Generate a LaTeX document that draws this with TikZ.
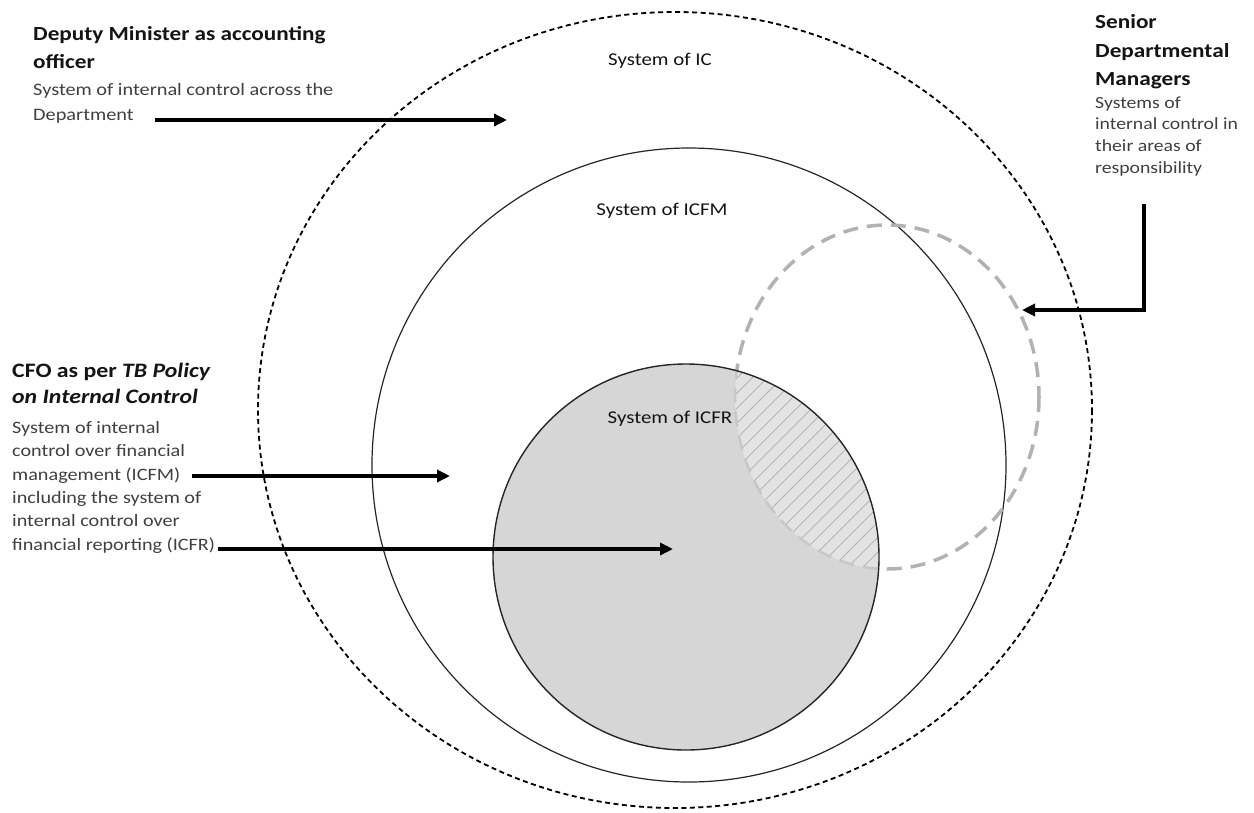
\documentclass[tikz,border=0pt]{standalone}
\usepackage{fontspec}
\setmainfont{Carlito}[FakeStretch=1.16]
\usetikzlibrary{arrows.meta}
\begin{document}
\begin{tikzpicture}[x=1pt,y=-1pt,
  head/.style={font=\fontsize{20}{28}\selectfont\bfseries, anchor=north west, inner sep=0pt, align=left, text=black!92},
  body/.style={font=\fontsize{17.5}{25}\selectfont, anchor=north west, inner sep=0pt, align=left, text=black!75},
  lbl/.style={font=\fontsize{18}{20}\selectfont, anchor=base, inner sep=0pt, text=black!92},
  arr/.style={line width=3.5pt, draw=black, -{Triangle[length=13pt,width=12pt]}},
]
\useasboundingbox (0,0) rectangle (1254,812);
\fill[white] (0,0) rectangle (1254,812);

% outer dashed ellipse: system of IC
\draw[line width=1.8pt, dash pattern=on 5pt off 3.5pt] (675,410) ellipse [x radius=417, y radius=398];
% middle circle: system of ICFM
\draw[line width=1.2pt, black!85] (689,465) circle [radius=317];
% senior managers dashed ellipse
\draw[line width=3.5pt, color=black!30, dash pattern=on 15pt off 9pt] (887,397) ellipse [x radius=152, y radius=172];
% inner gray circle: system of ICFR
\fill[black!16] (686,557) circle [radius=193];
% hatched intersection
\begin{scope}
  \clip (686,557) circle [radius=193];
  \clip (887,397) ellipse [x radius=152, y radius=172];
  \fill[black!11] (700,340) rectangle (900,600);
  \foreach \i in {0,...,26}{
    \draw[black!33, line width=0.7pt] (400+\i*15,700) -- ++(420,-420);
  }
\end{scope}
\begin{scope}
  \clip (686,557) circle [radius=193];
  \draw[line width=2.5pt, color=black!22, dash pattern=on 15pt off 9pt] (887,397) ellipse [x radius=152, y radius=172];
\end{scope}
\draw[line width=1.4pt, black!85] (686,557) circle [radius=193];

% circle labels
\node[lbl] (ic) at (660,65) {System of IC};
\node[lbl] (icfm) at (662,215) {System of ICFM};
\node[lbl] (icfr) at (670,423) {System of ICFR};

% Deputy Minister
\node[head] (dmh) at (33,26.4) {Deputy Minister as accounting\\officer};
\node[body] (dmb) at (33,83) {System of internal control across the\\Department};
\coordinate (dmA) at (155,120);
\coordinate (dmB) at (507,120);
\draw[arr] (dmA) -- (dmB);

% CFO
\node[head, font=\fontsize{20.5}{26}\selectfont\bfseries] (cfoh) at (12,363) {CFO as per \textit{TB Policy}\\\textit{on Internal Control}};
\node[body, font=\fontsize{17.4}{23.4}\selectfont] (cfob) at (12,421) {System of internal\\control over financial\\management (ICFM)\\including the system of\\internal control over\\financial reporting (ICFR)};
\coordinate (cfoA) at (192,476);
\coordinate (cfoB) at (450,476);
\coordinate (cfoC) at (218,549);
\coordinate (cfoD) at (673,549);
\draw[arr] (cfoA) -- (cfoB);
\draw[arr] (cfoC) -- (cfoD);

% Senior Departmental Managers
\node[head, font=\fontsize{20}{28.5}\selectfont\bfseries] (sdh) at (1095,14.4) {Senior\\Departmental\\Managers};
\node[body, font=\fontsize{17}{21.7}\selectfont] (sdb) at (1095,96.3) {Systems of\\internal control in\\their areas of\\responsibility};
\coordinate (sdA) at (1144,204);
\coordinate (sdB) at (1022,310);
\draw[arr, line join=miter] (sdA) |- (sdB);
\end{tikzpicture}
\end{document}
